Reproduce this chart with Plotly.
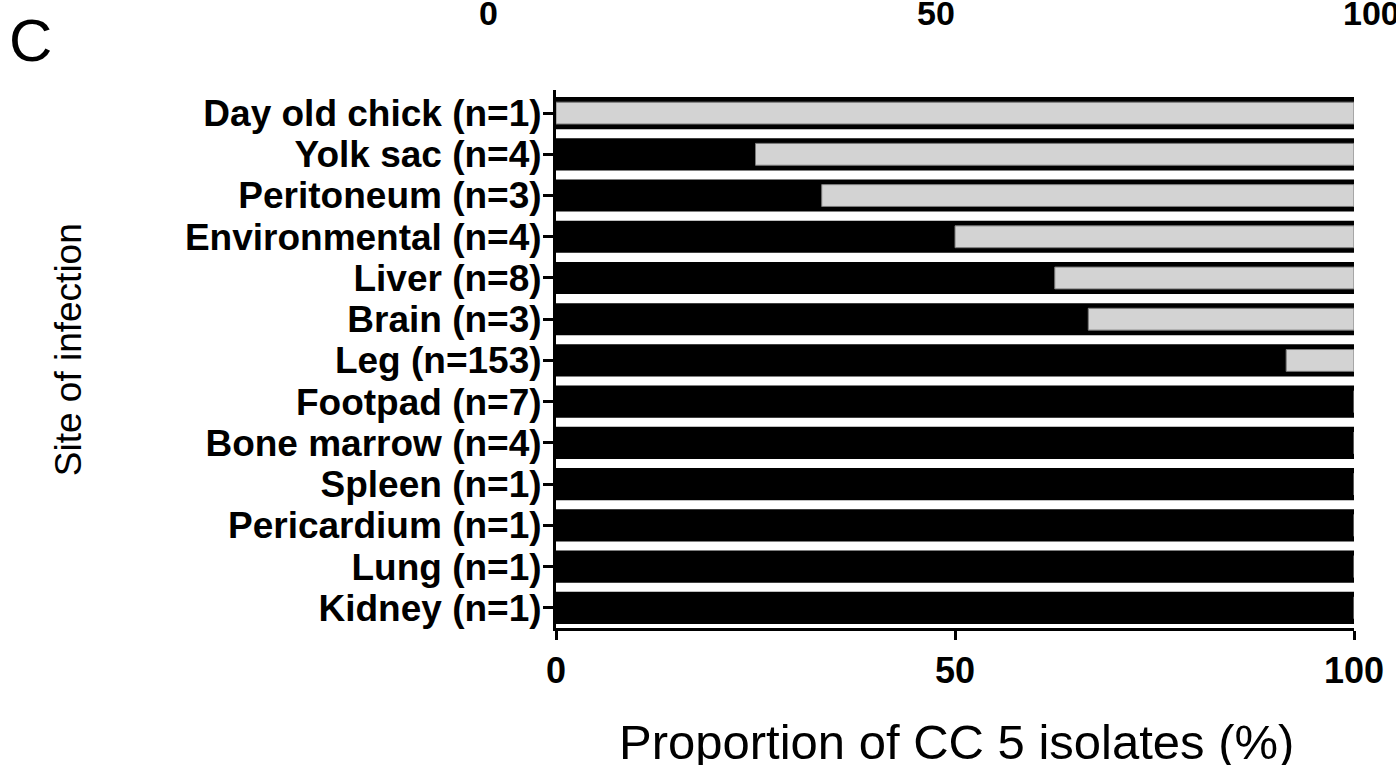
import plotly.graph_objects as go

# ---- data ----
sites = [
    "Day old chick (n=1)", "Yolk sac (n=4)", "Peritoneum (n=3)", "Environmental (n=4)",
    "Liver (n=8)", "Brain (n=3)", "Leg (n=153)", "Footpad (n=7)", "Bone marrow (n=4)",
    "Spleen (n=1)", "Pericardium (n=1)", "Lung (n=1)", "Kidney (n=1)",
]
cc5_pct = [0, 25, 33.3, 50, 62.5, 66.7, 91.5, 100, 100, 100, 100, 100, 100]
total_pct = [100] * len(sites)
other_pct = [t - c for t, c in zip(total_pct, cc5_pct)]

x_ticks = [0, 50, 100]
top_ticks = ["0", "50", "100"]

FONT = "Liberation Sans, Arial, sans-serif"

fig = go.Figure()
# full-length black bars (100 %) beneath; black part = CC5 share
fig.add_trace(go.Bar(
    y=sites, x=total_pct, orientation="h",
    marker=dict(color="#000000", line=dict(width=0)),
    width=0.78, showlegend=False, hoverinfo="skip",
))
# Non-CC5 (light grey) segments on top
fig.add_trace(go.Bar(
    y=sites, x=other_pct, base=cc5_pct, orientation="h",
    marker=dict(color="#d3d3d3", line=dict(color="#7a7a7a", width=1)),
    width=0.53, showlegend=False,
))

W, H = 1396, 765
L, R, T, B = 556, 40, 90, 137
pw, ph = W - L - R, H - T - B

def px_x(p):
    return (p - L) / pw

def px_y(p):
    return 1 - (p - T) / ph

annotations = [
    dict(text="Site of infection", x=px_x(67), y=px_y(350), xref="paper", yref="paper",
         textangle=-90, showarrow=False, font=dict(family=FONT, size=37, color="#000"),
         xanchor="center", yanchor="middle"),
    dict(text="Proportion of CC 5 isolates (%)", x=px_x(958), y=px_y(742), xref="paper", yref="paper",
         showarrow=False, font=dict(family=FONT, size=49, color="#000"),
         xanchor="center", yanchor="middle"),
    dict(text="C", x=px_x(29), y=px_y(40), xref="paper", yref="paper",
         showarrow=False, font=dict(family=FONT, size=60, color="#000"),
         xanchor="center", yanchor="middle"),
]
for lbl, cx in zip(top_ticks, [488, 937, 1374]):
    annotations.append(dict(text="<b>%s</b>" % lbl, x=px_x(cx), y=px_y(13), xref="paper", yref="paper",
                            showarrow=False, font=dict(family=FONT, size=34, color="#000"),
                            xanchor="center", yanchor="middle"))

fig.update_layout(
    width=W, height=H,
    margin=dict(l=L, r=R, t=T, b=B, pad=0),
    paper_bgcolor="white", plot_bgcolor="white",
    barmode="overlay", bargap=0.2,
    font=dict(family=FONT, color="#000"),
    annotations=annotations,
    xaxis=dict(
        range=[0, 100], tickvals=x_ticks, ticktext=[str(v) for v in x_ticks],
        showgrid=False, zeroline=False, showline=True, linecolor="#000", linewidth=3,
        ticks="outside", ticklen=9, tickwidth=3, tickcolor="#000",
        tickfont=dict(family=FONT, size=36, color="#000", weight="bold"),
        fixedrange=True,
    ),
    yaxis=dict(
        type="category", categoryorder="array", categoryarray=list(reversed(sites)),
        tickmode="array", tickvals=sites, ticktext=sites,
        range=[-0.49, 12.56],
        showgrid=False, zeroline=False, showline=True, linecolor="#000", linewidth=3,
        ticks="outside", ticklen=10, tickwidth=3, tickcolor="#000",
        tickfont=dict(family=FONT, size=37, color="#000", weight="bold"),
        ticklabelstandoff=-6,
        fixedrange=True,
    ),
)

fig.write_html("out.html", config={"displayModeBar": False},
               post_script="document.body.style.margin='0';")
